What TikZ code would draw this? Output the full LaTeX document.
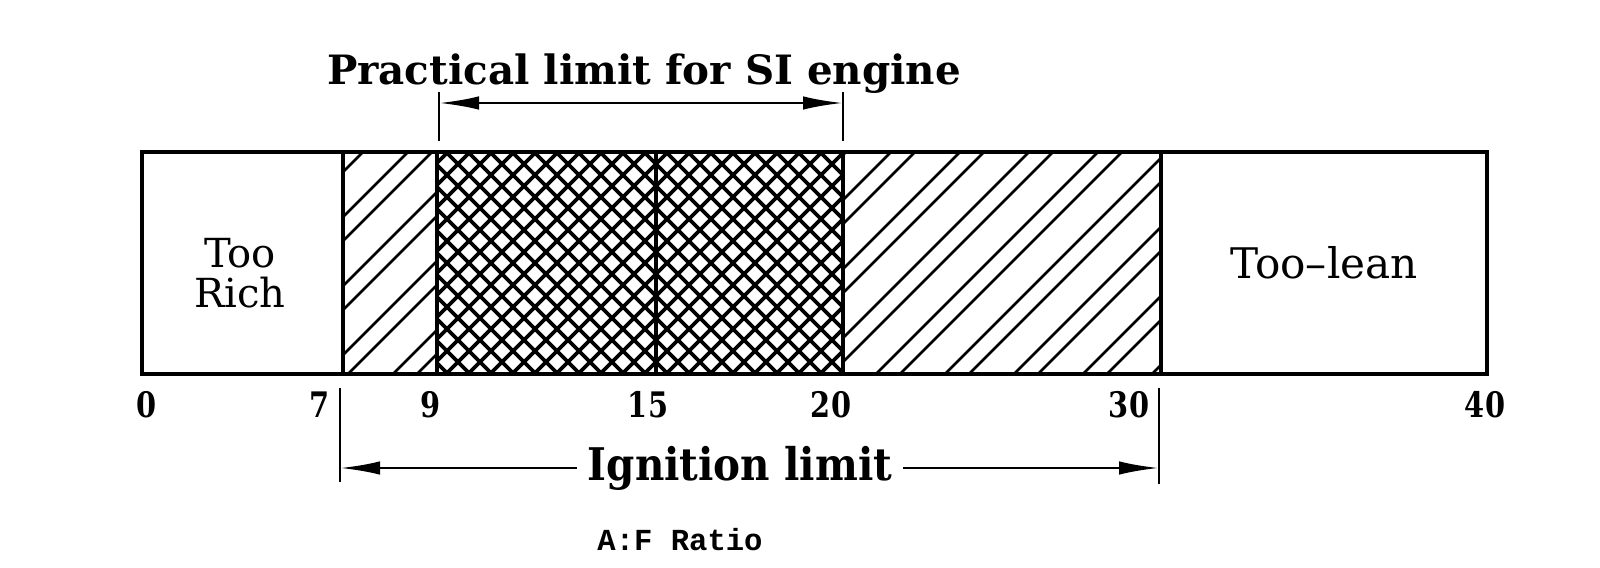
\documentclass[tikz,border=0pt]{standalone}
\usepackage{fontspec}
\setmainfont{DejaVu Serif}
\newfontfamily\twfont{Liberation Mono}
\newfontfamily\condfont{DejaVu Serif}[FakeStretch=0.82]
\newfontfamily\semicondfont{DejaVu Serif}[FakeStretch=0.9]
\usetikzlibrary{arrows.meta}
\begin{document}
\begin{tikzpicture}[x=0.1mm,y=-0.1mm,
  frame/.style={line width=0.9pt},
  hatchline/.style={line width=0.75pt},
  crossline/.style={line width=1.1pt},
  tickline/.style={line width=0.7pt},
  dimline/.style={line width=0.8pt},
  tip/.style={-{Latex[length=4mm,width=1.35mm]}},
  twotip/.style={{Latex[length=4mm,width=1.35mm]}-{Latex[length=4mm,width=1.35mm]}},
  headlab/.style={font=\bfseries\fontsize{11.5}{13}\selectfont, inner sep=0pt, anchor=base},
  numlab/.style={font=\condfont\bfseries\fontsize{10}{11}\selectfont, inner sep=0pt, anchor=base},
  zonelab/.style={font=\fontsize{11.4}{11.4}\selectfont, inner sep=0pt, align=center},
  axislab/.style={font=\twfont\bfseries\fontsize{8.7}{10}\selectfont, inner sep=0pt, anchor=base}
]
\fill[white] (0,0) rectangle (1600,568);
\useasboundingbox (0,0) rectangle (1600,568);

% box corners and dividers
\coordinate (tl) at (142,152);
\coordinate (br) at (1487,374);
\coordinate (a7) at (343,152);  \coordinate (b7) at (343,374);
\coordinate (a9) at (437,152);  \coordinate (b9) at (437,374);
\coordinate (a15) at (656,152); \coordinate (b15) at (656,374);
\coordinate (a20) at (843,152); \coordinate (b20) at (843,374);
\coordinate (a30) at (1161,152); \coordinate (b30) at (1161,374);

% single hatching (pairs of lines)
\begin{scope}
  \clip (a7) rectangle (b9) (a20) rectangle (b30);
  \foreach \k in {-8,...,7} {
    \pgfmathsetmacro{\xa}{669+69*\k}
    \pgfmathsetmacro{\xb}{693+69*\k}
    \draw[hatchline] (\xa,374) -- ++(222,-222);
    \draw[hatchline] (\xb,374) -- ++(222,-222);
  }
\end{scope}

% cross hatching
\begin{scope}
  \clip (a9) rectangle (b20);
  \foreach \k in {0,...,30} {
    \pgfmathsetmacro{\xc}{204+22*\k}
    \draw[crossline] (\xc,374) -- ++(222,-222);
    \draw[crossline] (\xc,152) -- ++(222,222);
  }
\end{scope}

% frame and dividers
\draw[frame] (tl) rectangle (br);
\foreach \n in {7,9,15,20,30} { \draw[frame] (a\n) -- (b\n); }

% zone labels
\node[zonelab] (rich) at (240,273) {Too\\Rich};
\node[zonelab, anchor=base, font=\fontsize{12}{12}\selectfont] (lean) at (1324,278) {Too--lean};

% practical limit
\node[headlab] (prac) at (644,84) {Practical limit for SI engine};
\coordinate (p1t) at (439,92);  \coordinate (p1b) at (439,141);
\coordinate (p2t) at (843,92);  \coordinate (p2b) at (843,141);
\coordinate (p1m) at (439,103); \coordinate (p2m) at (843,103);
\draw[tickline] (p1t) -- (p1b);
\draw[tickline] (p2t) -- (p2b);
\draw[dimline, twotip] (p1m) -- (p2m);

% scale numbers
\node[numlab] (n0) at (147,417) {0};
\node[numlab] (n7) at (320,417) {7};
\node[numlab] (n9) at (431,417) {9};
\node[numlab] (n15) at (648,417) {15};
\node[numlab] (n20) at (831,417) {20};
\node[numlab] (n30) at (1129,417) {30};
\node[numlab] (n40) at (1485,417) {40};

% ignition limit
\coordinate (i1t) at (340,388); \coordinate (i1b) at (340,482);
\coordinate (i2t) at (1159,388); \coordinate (i2b) at (1159,484);
\coordinate (i1m) at (340,468); \coordinate (i2m) at (1159,468);
\draw[tickline] (i1t) -- (i1b);
\draw[tickline] (i2t) -- (i2b);
\node[headlab, font=\semicondfont\bfseries\fontsize{12.8}{14}\selectfont, inner xsep=3pt] (ign) at (740,480) {Ignition limit};
\draw[dimline, tip] (ign.west |- i1m) -- (i1m);
\draw[dimline, tip] (ign.east |- i2m) -- (i2m);

% axis label
\node[axislab] (afr) at (680,550) {A:F Ratio};
\end{tikzpicture}
\end{document}
